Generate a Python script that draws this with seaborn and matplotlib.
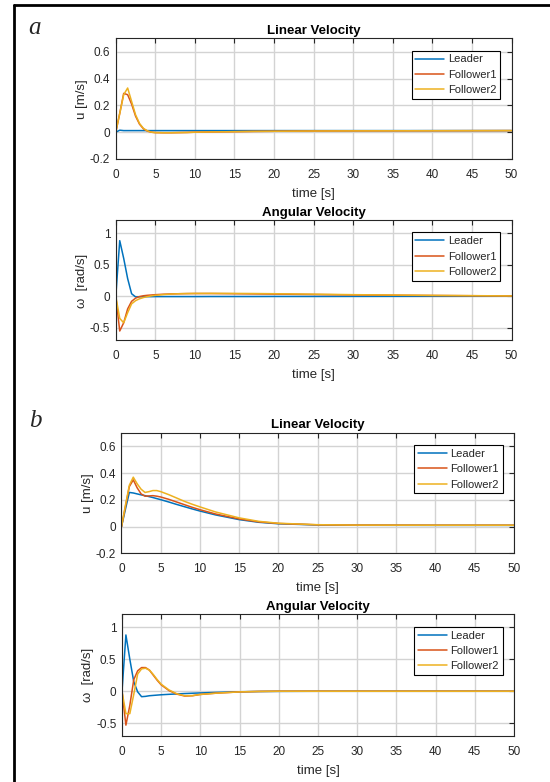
import numpy as np
import pandas as pd
import matplotlib
matplotlib.use("Agg")
import matplotlib.pyplot as plt
from matplotlib.lines import Line2D
import seaborn as sns

# ---------------- data ----------------
time_s = [0, 0.5, 1, 1.5, 2, 2.5, 3, 3.5, 4, 4.5, 5, 6, 7, 8, 9, 10, 12, 15, 17.5, 20, 25, 30, 40, 50]
series_names = ["Leader", "Follower1", "Follower2"]

# panel a - linear velocity [m/s]
a_lin_leader = [0, 0.015, 0.012, 0.012, 0.012, 0.012, 0.012, 0.012, 0.012, 0.012, 0.012, 0.012,
                0.012, 0.012, 0.012, 0.012, 0.012, 0.012, 0.012, 0.012, 0.012, 0.012, 0.012, 0.012]
a_lin_f1 = [0, 0.14, 0.29, 0.28, 0.21, 0.12, 0.06, 0.025, 0.008, 0.0, -0.003, -0.004,
            -0.004, -0.003, -0.002, 0.0, 0.002, 0.004, 0.006, 0.007, 0.009, 0.010, 0.011, 0.012]
a_lin_f2 = [0, 0.14, 0.28, 0.33, 0.23, 0.13, 0.065, 0.028, 0.010, 0.0, -0.003, -0.004,
            -0.004, -0.003, -0.002, 0.0, 0.002, 0.004, 0.006, 0.007, 0.009, 0.010, 0.011, 0.012]

# panel a - angular velocity [rad/s]
a_ang_leader = [0, 0.88, 0.60, 0.28, 0.04, -0.01, -0.008, -0.007, -0.006, -0.006, -0.005, -0.005,
                -0.005, -0.005, -0.005, -0.005, -0.004, -0.004, -0.004, -0.003, -0.003, -0.002, -0.001, 0]
a_ang_f1 = [0, -0.55, -0.42, -0.20, -0.08, -0.03, -0.005, 0.008, 0.015, 0.020, 0.025, 0.032,
            0.037, 0.040, 0.042, 0.043, 0.043, 0.040, 0.037, 0.034, 0.028, 0.021, 0.012, 0.005]
a_ang_f2 = [0, -0.35, -0.42, -0.26, -0.12, -0.07, -0.04, -0.02, -0.005, 0.006, 0.015, 0.027,
            0.035, 0.040, 0.043, 0.045, 0.046, 0.045, 0.043, 0.040, 0.033, 0.025, 0.014, 0.005]

# panel b - linear velocity [m/s]
b_lin_leader = [0, 0.13, 0.256, 0.252, 0.245, 0.238, 0.232, 0.225, 0.218, 0.210, 0.202, 0.185,
                0.167, 0.150, 0.133, 0.117, 0.088, 0.053, 0.033, 0.022, 0.013, 0.011, 0.010, 0.010]
b_lin_f1 = [0, 0.15, 0.30, 0.35, 0.29, 0.245, 0.228, 0.230, 0.232, 0.228, 0.222, 0.205,
            0.185, 0.165, 0.145, 0.127, 0.095, 0.058, 0.036, 0.024, 0.014, 0.012, 0.011, 0.011]
b_lin_f2 = [0, 0.16, 0.31, 0.37, 0.32, 0.28, 0.256, 0.262, 0.270, 0.270, 0.262, 0.240,
            0.215, 0.190, 0.168, 0.148, 0.110, 0.066, 0.040, 0.026, 0.015, 0.012, 0.011, 0.011]

# panel b - angular velocity [rad/s]
b_ang_leader = [0, 0.88, 0.50, 0.15, -0.01, -0.085, -0.080, -0.070, -0.065, -0.060, -0.055, -0.048,
                -0.042, -0.036, -0.031, -0.026, -0.018, -0.008, -0.004, -0.002, 0, 0, 0, 0]
b_ang_f1 = [0, -0.53, -0.22, 0.18, 0.32, 0.37, 0.37, 0.33, 0.25, 0.17, 0.10, 0.01,
            -0.045, -0.075, -0.07, -0.05, -0.03, -0.01, -0.003, 0, 0, 0, 0, 0]
b_ang_f2 = [0, -0.35, -0.35, -0.05, 0.27, 0.35, 0.36, 0.33, 0.26, 0.18, 0.11, 0.02,
            -0.04, -0.07, -0.068, -0.05, -0.03, -0.01, -0.003, 0, 0, 0, 0, 0]

xticks = [0, 5, 10, 15, 20, 25, 30, 35, 40, 45, 50]
lin_yticks = [-0.2, 0, 0.2, 0.4, 0.6]
lin_yticklabels = ["-0.2", "0", "0.2", "0.4", "0.6"]
ang_yticks = [-0.5, 0, 0.5, 1]
ang_yticklabels = ["-0.5", "0", "0.5", "1"]

palette = {"Leader": "#0072BD", "Follower1": "#D95319", "Follower2": "#EDB120"}

# ---------------- style ----------------
sns.set_style("white")
plt.rcParams["font.family"] = ["Liberation Sans", "DejaVu Sans"]

fig = plt.figure(figsize=(5.5, 7.82), dpi=100)

panels = [
    dict(rect=[0.2105, 0.7967, 0.7195, 0.1541], data=(a_lin_leader, a_lin_f1, a_lin_f2),
         title="Linear Velocity", ylabel="u [m/s]", ylim=(-0.2, 0.7), yt=lin_yticks, ytl=lin_yticklabels),
    dict(rect=[0.2105, 0.5646, 0.7195, 0.1535], data=(a_ang_leader, a_ang_f1, a_ang_f2),
         title="Angular Velocity", ylabel="ω  [rad/s]", ylim=(-0.7, 1.2), yt=ang_yticks, ytl=ang_yticklabels),
    dict(rect=[0.2209, 0.2922, 0.7136, 0.1541], data=(b_lin_leader, b_lin_f1, b_lin_f2),
         title="Linear Velocity", ylabel="u [m/s]", ylim=(-0.2, 0.7), yt=lin_yticks, ytl=lin_yticklabels),
    dict(rect=[0.2218, 0.0588, 0.7127, 0.1554], data=(b_ang_leader, b_ang_f1, b_ang_f2),
         title="Angular Velocity", ylabel="ω  [rad/s]", ylim=(-0.7, 1.2), yt=ang_yticks, ytl=ang_yticklabels),
]

text_col = "#262626"
for p in panels:
    ax = fig.add_axes(p["rect"])
    frames = []
    for name, vals in zip(series_names, p["data"]):
        frames.append(pd.DataFrame({"time": time_s, "value": vals, "series": name}))
    df = pd.concat(frames, ignore_index=True)
    sns.lineplot(data=df, x="time", y="value", hue="series", hue_order=series_names,
                 palette=palette, linewidth=1.1, estimator=None, sort=False, ax=ax)
    ax.set_xlim(0, 50)
    ax.set_ylim(*p["ylim"])
    ax.set_xticks(xticks)
    ax.set_xticklabels([str(v) for v in xticks])
    ax.set_yticks(p["yt"])
    ax.set_yticklabels(p["ytl"])
    ax.grid(True, color="#d3d3d3", linewidth=1.0)
    ax.set_axisbelow(True)
    for s in ax.spines.values():
        s.set_color(text_col)
        s.set_linewidth(0.8)
    ax.tick_params(axis="both", direction="in", length=3.5, width=0.8, colors=text_col,
                   labelsize=8.5, top=True, right=True)
    ax.tick_params(axis="x", pad=7)
    ax.tick_params(axis="y", pad=4)
    ax.set_title(p["title"], fontsize=9.5, fontweight="bold", pad=3.5, color="black")
    ax.set_xlabel("time [s]", fontsize=9.5, labelpad=5, color=text_col)
    ax.set_ylabel(p["ylabel"], fontsize=9.5, labelpad=1.5, color=text_col)
    leg = ax.legend(loc="upper right", bbox_to_anchor=(0.971, 0.90), borderaxespad=0,
                    fontsize=8, frameon=True, fancybox=False, framealpha=1,
                    handlelength=2.6, handletextpad=0.3, labelspacing=0.48, borderpad=0.35,
                    title=None)
    leg.get_frame().set_edgecolor("black")
    leg.get_frame().set_linewidth(0.8)

fig.text(0.051, 0.957, "a", fontsize=18, style="italic", family=["Liberation Serif", "DejaVu Serif"],
         va="baseline", ha="left")
fig.text(0.0527, 0.4544, "b", fontsize=18, style="italic", family=["Liberation Serif", "DejaVu Serif"],
         va="baseline", ha="left")

# outer frame (top and left edges visible)
fig.add_artist(Line2D([14 / 550, 14 / 550], [0, 1 - 5 / 782], transform=fig.transFigure,
                      color="black", linewidth=2.0))
fig.add_artist(Line2D([14 / 550, 1.0], [1 - 5 / 782, 1 - 5 / 782], transform=fig.transFigure,
                      color="black", linewidth=2.0))

fig.savefig("out.png", dpi=100)
